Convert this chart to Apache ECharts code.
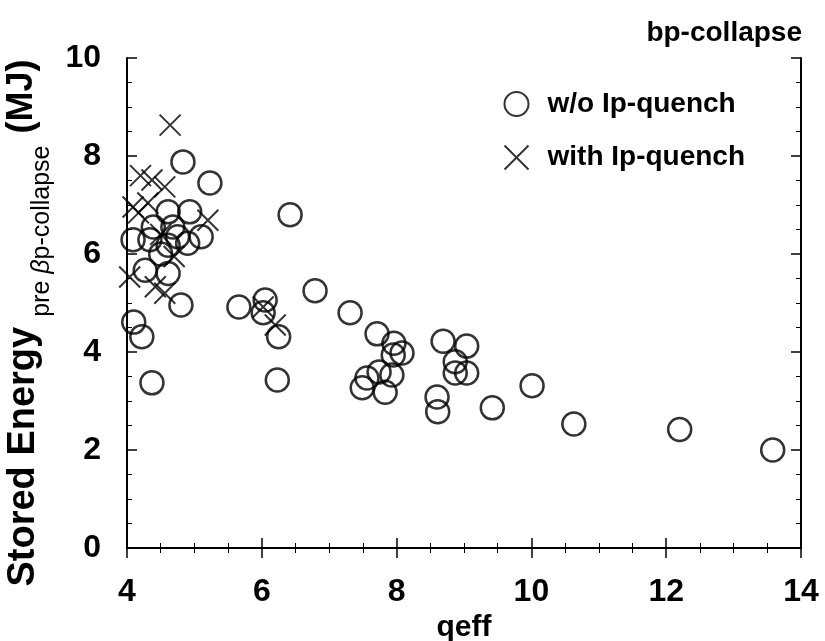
<!DOCTYPE html>
<html>
<head>
<meta charset="utf-8">
<script src="https://cdn.jsdelivr.net/npm/echarts@6/dist/echarts.min.js"></script>
<style>
html,body{margin:0;padding:0;background:#fff;}
#main{width:825px;height:641px;}
</style>
</head>
<body>
<div id="main"></div>
<script>
// Data
var seriesNames = ['w/o Ip-quench', 'with Ip-quench'];
var woQuench = [
  [13.58,2.0],[12.2,2.42],[10.63,2.53],[10.01,3.31],[9.42,2.86],
  [9.04,4.12],[9.04,3.57],[8.87,3.8],[8.87,3.57],[8.69,4.22],
  [8.6,3.08],[8.61,2.78],[8.08,3.98],[7.96,4.18],[7.95,3.94],
  [7.93,3.53],[7.83,3.18],[7.71,4.37],[7.74,3.59],[7.56,3.47],
  [7.49,3.27],[7.31,4.8],[6.79,5.25],[6.42,6.8],[6.23,3.43],
  [6.25,4.31],[6.05,5.06],[6.02,4.8],[5.66,4.92],[5.23,7.45],
  [4.83,7.88],[4.8,4.96],[4.1,4.61],[4.22,4.31],[4.37,3.37],
  [4.61,6.86],[4.93,6.86],[5.1,6.35],[4.09,6.29],[4.34,6.29],
  [4.61,6.18],[4.9,6.22],[4.39,6.55],[4.68,6.55],[4.27,5.67],
  [4.61,5.6],[4.75,6.35],[4.5,6.0]
];
var withQuench = [
  [4.64,8.63],[4.2,7.6],[4.37,7.51],[4.56,7.37],[4.09,6.96],
  [4.31,7.04],[4.17,6.84],[5.2,6.69],[4.42,5.33],[4.56,5.2],
  [4.04,5.53],[6.02,4.92],[6.2,4.55],[4.5,6.4],[4.7,5.95]
];
var xTicks = [4, 6, 8, 10, 12, 14];
var yTicks = [0, 2, 4, 6, 8, 10];

var chart = echarts.init(document.getElementById('main'), null, {renderer:'canvas'});
var axisCommon = {
  axisLine:{show:true, lineStyle:{color:'#000', width:2}},
  axisTick:{show:true, inside:true, length:10, lineStyle:{color:'#000', width:1.5}},
  minorTick:{show:true, splitNumber:4, length:5, lineStyle:{color:'#000', width:1}},
  splitLine:{show:false}
};
var font = 'Liberation Sans, Arial, Helvetica, sans-serif';
chart.setOption({
  backgroundColor:'#fff',
  animation:false,
  title:{text:'bp-collapse', right:18, top:14,
    textStyle:{fontFamily:font, fontWeight:'bold', fontSize:28, color:'#000'}},
  legend:{
    orient:'vertical', left:497, top:85, itemGap:25,
    itemWidth:24, itemHeight:24,
    textStyle:{fontFamily:font, fontWeight:'bold', fontSize:28, color:'#000', padding:[0,0,0,14]},
    data:[
      {name:seriesNames[0], icon:'circle', itemStyle:{color:'#fff', borderColor:'#000', borderWidth:2}},
      {name:seriesNames[1], icon:'path://M0,0L10,10M10,0L0,10', itemStyle:{color:'none', borderColor:'#000', borderWidth:2}}
    ]
  },
  grid:{left:127, right:24, top:58, bottom:93, containLabel:false, outerBoundsMode:'none'},
  xAxis:[
    Object.assign({type:'value', min:xTicks[0], max:xTicks[xTicks.length-1], interval:2,
      name:'qeff', nameLocation:'middle', nameGap:60,
      nameTextStyle:{fontFamily:font, fontWeight:'bold', fontSize:30, color:'#000'},
      axisLabel:{margin:28, fontFamily:font, fontWeight:'bold', fontSize:32, color:'#000'}}, axisCommon),
    Object.assign({type:'value', position:'top', min:xTicks[0], max:xTicks[xTicks.length-1], interval:2,
      axisLabel:{show:false}}, axisCommon)
  ],
  yAxis:[
    Object.assign({type:'value', min:yTicks[0], max:yTicks[yTicks.length-1], interval:2,
      name:'{a|Stored Energy}{s| }{b|pre }{c|β}{b|p-collapse}{g| }{m|(MJ)}{t| }',
      nameLocation:'middle', nameGap:72, nameRotate:90,
      nameTextStyle:{color:'#000',
        rich:{
          a:{fontFamily:font, fontWeight:'bold', fontSize:38, color:'#000', verticalAlign:'top', lineHeight:40},
          m:{fontFamily:font, fontWeight:'bold', fontSize:36, color:'#000', verticalAlign:'top', lineHeight:40},
          s:{width:10, fontSize:10},
          g:{width:12, fontSize:10},
          t:{width:40, fontSize:10},
          b:{fontFamily:font, fontSize:25, color:'#000', verticalAlign:'bottom', lineHeight:50},
          c:{fontFamily:font, fontSize:25, fontStyle:'italic', color:'#000', verticalAlign:'bottom', lineHeight:50}
        }},
      axisLabel:{margin:26, fontFamily:font, fontWeight:'bold', fontSize:32, color:'#000'}}, axisCommon),
    Object.assign({type:'value', position:'right', min:yTicks[0], max:yTicks[yTicks.length-1], interval:2,
      axisLabel:{show:false}}, axisCommon)
  ],
  series:[
    {name:seriesNames[0], type:'scatter', data:woQuench, symbol:'circle', symbolSize:23,
      itemStyle:{color:'rgba(255,255,255,0)', borderColor:'#000', borderWidth:2.5}, z:2},
    {name:seriesNames[1], type:'scatter', data:withQuench, symbol:'path://M0,0L10,10M10,0L0,10', symbolSize:21,
      itemStyle:{color:'none', borderColor:'#000', borderWidth:2}, z:3}
  ]
});
</script>
</body>
</html>
